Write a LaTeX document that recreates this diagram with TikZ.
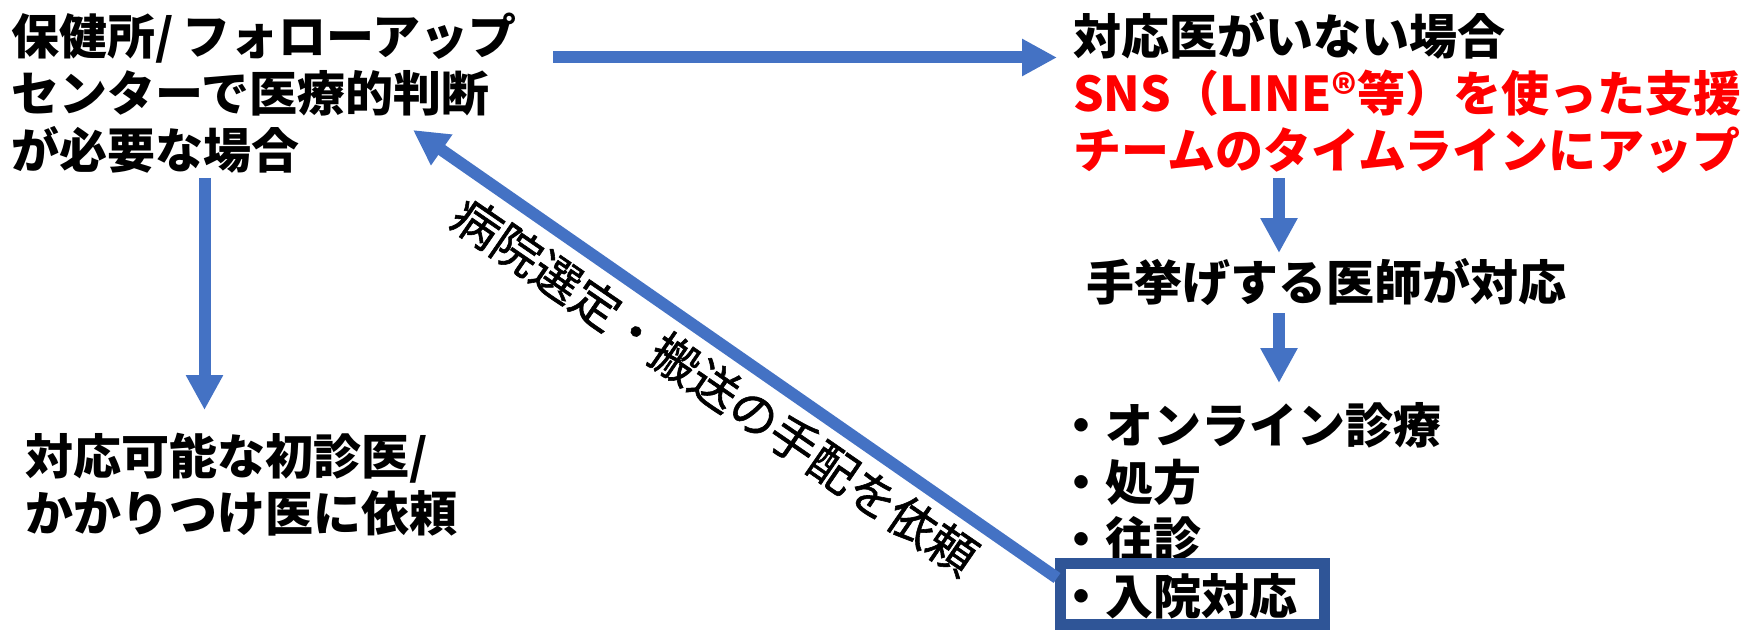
\documentclass[tikz,border=0pt]{standalone}
\usepackage{fontspec}
\setmainfont{Noto Sans CJK JP}
\newfontfamily\lblfont{Noto Sans CJK JP}[FakeBold=1.2]
\usetikzlibrary{arrows.meta}
\definecolor{arrowblue}{HTML}{4472C4}
\definecolor{boxblue}{HTML}{2F5597}
\definecolor{redtxt}{HTML}{FF0000}
\begin{document}
\begin{tikzpicture}[x=0.75pt,y=-0.75pt,
  txt/.style={inner sep=0pt, outer sep=0pt, align=left, anchor=north west,
    font=\fontsize{36}{42.75}\selectfont\bfseries},
  lbl/.style={inner sep=0pt, outer sep=0pt,
    font=\lblfont\fontsize{36}{40}\selectfont},
  flow/.style={draw=arrowblue, line width=9pt,
    -{Triangle[length=26.25pt,width=26.25pt]}},
  hlbox/.style={draw=boxblue, line width=8.25pt, rectangle, inner sep=0pt,
    minimum width=198pt, minimum height=45.75pt}]
\useasboundingbox (0,0) rectangle (1752,631);

% text blocks
\node[txt] (hc) at (12,13) {保健所/\,フォローアップ\\センターで医療的判断\\が必要な場合};
\node[txt] (nodoc) at (1073,12) {対応医がいない場合\\\textcolor{redtxt}{SNS（LINE®等）を使った支援}\\\textcolor{redtxt}{チームのタイムラインにアップ}};
\node[txt] (gp) at (25,433) {対応可能な初診医/\\かかりつけ医に依頼};
\node[txt] (vol) at (1086,258) {手挙げする医師が対応};
\node[txt] (svc) at (1057,402) {・オンライン診療\\・処方\\・往診\\・入院対応};
\node[hlbox] (adm) at (1192.5,594) {};

% connector end points
\coordinate (a1s) at (553,57.5);
\coordinate (a1e) at (1057,57.5);
\coordinate (a2s) at (204.5,178);
\coordinate (a2e) at (204.5,410);
\coordinate (a3s) at (1279,178);
\coordinate (a3e) at (1279,253);
\coordinate (a4s) at (1279,313);
\coordinate (a4e) at (1279,383);
\coordinate (a5s) at (1057,578);
\coordinate (a5e) at (413,130);

\draw[flow] (a1s) -- (a1e);
\draw[flow] (a2s) -- (a2e);
\draw[flow] (a3s) -- (a3e);
\draw[flow] (a4s) -- (a4e);
\draw[flow] (a5s) -- (a5e);

\node[lbl, rotate=-34.5] (req) at (715,386) {病院選定・搬送の手配を依頼};
\end{tikzpicture}
\end{document}
